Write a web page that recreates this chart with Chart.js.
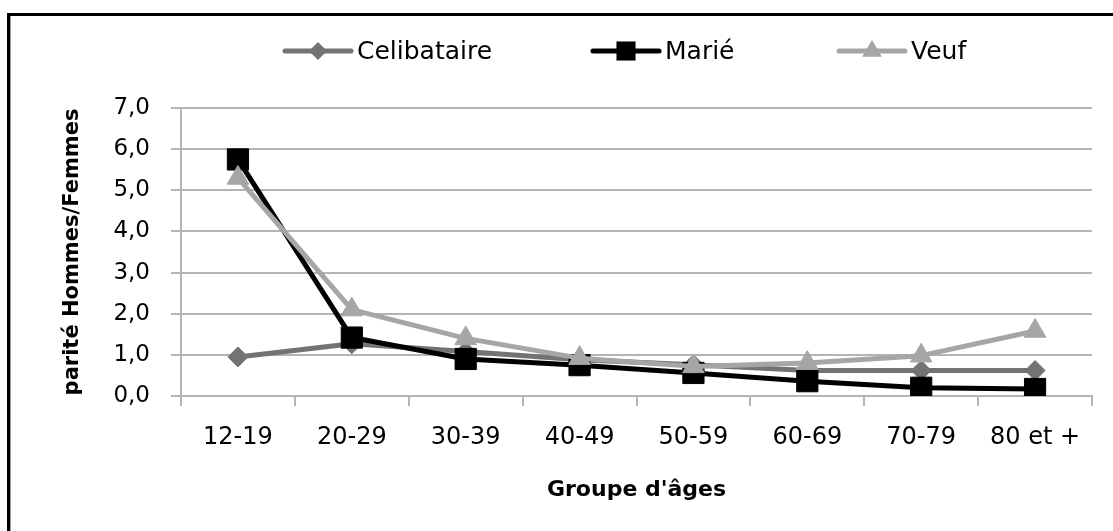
<!DOCTYPE html>
<html><head><meta charset="utf-8">
<script src="https://cdn.jsdelivr.net/npm/chart.js@4/dist/chart.umd.min.js"></script>
<style>html,body{margin:0;padding:0;background:#fff;overflow:hidden}#wrap{position:relative;width:1113px;height:531px}</style>
</head><body><div id="wrap"><canvas id="c" width="1113" height="531"></canvas></div>
<script>
// ---- data ----
const categories = ['12-19', '20-29', '30-39', '40-49', '50-59', '60-69', '70-79', '80 et +'];
const seriesNames = ['Celibataire', 'Marié', 'Veuf'];
const celibataire = [0.95, 1.27, 1.08, 0.88, 0.76, 0.62, 0.62, 0.62];
const marie = [5.75, 1.42, 0.90, 0.75, 0.56, 0.36, 0.20, 0.17];
const veuf = [5.30, 2.10, 1.40, 0.92, 0.72, 0.80, 0.98, 1.58];
const yTickValues = [0, 1, 2, 3, 4, 5, 6, 7];
const yTitle = 'parité Hommes/Femmes';
const xTitle = "Groupe d'âges";

// ---- style ----
const FONT = 'DejaVu Sans';
const GRID = '#b4b4b4';
const colors = ['#737373', '#000000', '#a6a6a6'];
const styles = ['rectRot', 'rect', 'triangle'];
const radii = [10, 15, 12.5];
const legendX = [285, 593, 839];

Chart.defaults.font.family = FONT;
Chart.defaults.color = '#000';

const frame = {
  id: 'frame',
  beforeDraw(chart) {
    const c = chart.ctx;
    c.save();
    c.fillStyle = '#000';
    c.fillRect(7, 13, chart.width, 3);
    c.fillRect(7, 13, 3, chart.height);
    c.fillStyle = '#9a9a9a';
    c.fillRect(10, 16, 1, chart.height);
    c.restore();
  }
};

function marker(c, style, r, x, y) {
  c.beginPath();
  if (style === 'rectRot') {
    c.moveTo(x - r, y); c.lineTo(x, y - r); c.lineTo(x + r, y); c.lineTo(x, y + r);
  } else if (style === 'rect') {
    const s = r * Math.SQRT1_2;
    c.rect(x - s, y - s, 2 * s, 2 * s);
  } else {
    c.moveTo(x, y - r);
    c.lineTo(x + r * Math.sin(2 * Math.PI / 3), y + r / 2);
    c.lineTo(x - r * Math.sin(2 * Math.PI / 3), y + r / 2);
  }
  c.closePath();
  c.fill();
}

const excelLegend = {
  id: 'excelLegend',
  afterDraw(chart) {
    const c = chart.ctx;
    chart.data.datasets.forEach((ds, i) => {
      const x0 = legendX[i], y = 51;
      c.save();
      c.strokeStyle = ds.borderColor;
      c.fillStyle = ds.borderColor;
      c.lineWidth = ds.borderWidth;
      c.lineCap = 'round';
      c.beginPath(); c.moveTo(x0, y); c.lineTo(x0 + 66, y); c.stroke();
      marker(c, ds.pointStyle, ds.pointRadius * 0.9, x0 + 33, y);
      c.fillStyle = '#000';
      c.font = '25px "' + FONT + '"';
      c.textBaseline = 'alphabetic';
      c.textAlign = 'left';
      c.fillText(ds.label, x0 + 72, 59);
      c.restore();
    });
  }
};

const seriesData = [celibataire, marie, veuf];
const datasets = seriesNames.map((name, i) => ({
  label: name,
  data: seriesData[i],
  borderColor: colors[i],
  backgroundColor: colors[i],
  pointBackgroundColor: colors[i],
  pointBorderColor: colors[i],
  pointBorderWidth: 1,
  borderWidth: 5,
  pointStyle: styles[i],
  pointRadius: radii[i],
  pointHoverRadius: radii[i],
  tension: 0,
  borderJoinStyle: 'round',
  borderCapStyle: 'round',
  order: 3 - i
}));

new Chart(document.getElementById('c'), {
  type: 'line',
  data: { labels: categories, datasets },
  plugins: [frame, excelLegend],
  options: {
    responsive: false,
    animation: false,
    devicePixelRatio: 1,
    layout: { padding: { top: 108, right: 21, bottom: 0, left: 0 } },
    plugins: { legend: { display: false }, tooltip: { enabled: false }, title: { display: false } },
    scales: {
      x: {
        type: 'category',
        offset: true,
        grid: { offset: true, drawOnChartArea: false, drawTicks: true, tickLength: 10, color: GRID, lineWidth: 2 },
        border: { display: true, color: GRID, width: 2 },
        ticks: { font: { size: 24 }, padding: 17, maxRotation: 0, autoSkip: false, color: '#000' },
        title: { display: true, text: xTitle, font: { size: 22, weight: 'bold' }, padding: { top: 0, bottom: 28 }, color: '#000' },
        afterFit(s) { s.height = 135; }
      },
      y: {
        min: 0, max: 7,
        afterBuildTicks(s) { s.ticks = yTickValues.map(v => ({ value: v })); },
        grid: { color: GRID, lineWidth: 2, tickLength: 10, drawTicks: true },
        border: { display: true, color: GRID, width: 2 },
        ticks: { font: { size: 23 }, padding: 21, color: '#000',
          callback: v => Number(v).toFixed(1).replace('.', ',') },
        title: { display: true, text: yTitle, font: { size: 21, weight: 'bold' }, padding: { top: 60, bottom: 0 }, color: '#000' },
        afterFit(s) { s.width = 181; }
      }
    }
  }
});
</script></body></html>
